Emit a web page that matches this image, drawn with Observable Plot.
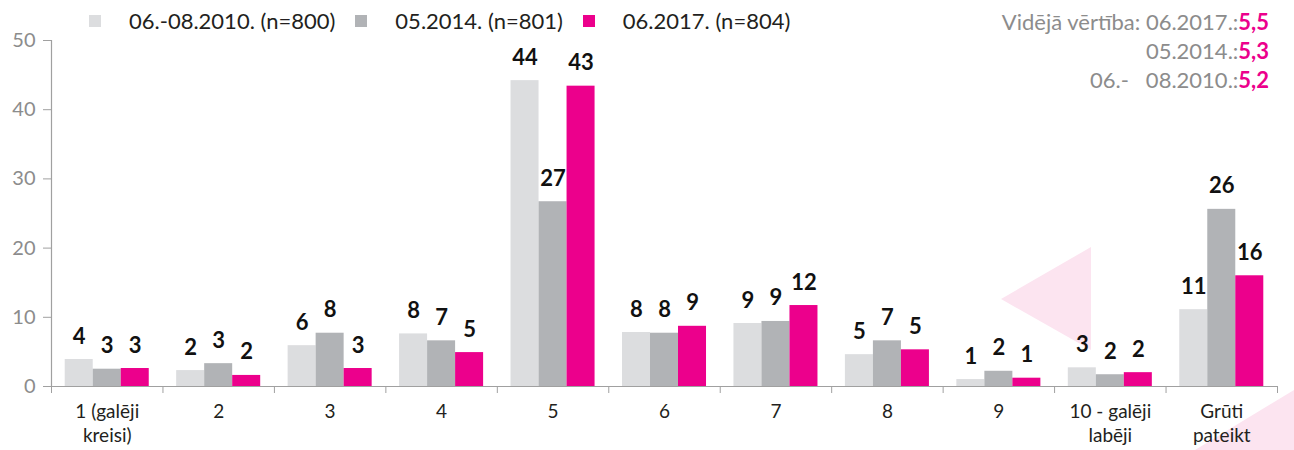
<!DOCTYPE html>
<html>
<head>
<meta charset="utf-8">
<script src="https://cdn.jsdelivr.net/npm/d3@7"></script>
<script src="https://cdn.jsdelivr.net/npm/@observablehq/plot@0.6"></script>
<style>
  html, body { margin: 0; padding: 0; background: #fff; }
  #wrap { position: relative; width: 1294px; height: 450px; overflow: hidden; font-family: Lato, "Noto Sans", sans-serif; }
  #deco { position: absolute; left: 0; top: 0; z-index: 0; }
  #chart { position: absolute; left: 0; top: 0; z-index: 1; }
  #legend { position: absolute; left: 89px; top: 7px; z-index: 2; display: flex; align-items: center; font-size: 22px; color: #231f20; }
  .item { display: flex; align-items: center; margin-right: 20px; }
  .sw { width: 12px; height: 12px; margin-right: 28px; }
  #stats { position: absolute; right: 25px; top: 7px; z-index: 2; text-align: right; font-size: 22px; color: #8c8c8c; line-height: 29px; white-space: pre; }
  #stats b { color: #ec008c; }
</style>
</head>
<body>
<div id="wrap">
  <svg id="deco" width="1294" height="450">
    <polygon points="1001,299 1091,247 1091,350" fill="#fce4f0"></polygon>
    <polygon points="1195,450 1294,390 1294,450" fill="#fce4f0"></polygon>
  </svg>
  <div id="chart"></div>
  <div id="legend"></div>
  <div id="stats"></div>
</div>
<script>
const categories = ["1 (galēji\nkreisi)", "2", "3", "4", "5", "6", "7", "8", "9", "10 - galēji\nlabēji", "Grūti\npateikt"];
const series = ["06.-08.2010. (n=800)", "05.2014. (n=801)", "06.2017. (n=804)"];
const colors = ["#dcdddf", "#b1b3b6", "#ec008c"];
const v2010 = [3.9, 2.3, 5.9, 7.6, 44.2, 7.8, 9.1, 4.6, 1.0, 2.7, 11.1];
const v2014 = [2.5, 3.3, 7.7, 6.6, 26.7, 7.7, 9.4, 6.6, 2.2, 1.7, 25.6];
const v2017 = [2.6, 1.6, 2.6, 4.9, 43.4, 8.7, 11.7, 5.3, 1.2, 2.0, 16.0];
const yTicks = [0, 10, 20, 30, 40, 50];
const meanLabels = ["Vidējā vērtība: 06.2017.:", "05.2014.:", "06.-   08.2010.:"];
const meanValues = ["5,5", "5,3", "5,2"];

const seriesValues = [v2010, v2014, v2017];
const rows = [];
categories.forEach((c, i) => {
  seriesValues.forEach((vals, s) => rows.push({cat: i, s, value: vals[i]}));
});

const PAD = 0.123;
const BW = (1 - 2 * PAD) / 3;
const left = d => d.cat + PAD + d.s * BW;

const chart = Plot.plot({
  width: 1294,
  height: 450,
  marginLeft: 51,
  marginRight: 17,
  marginTop: 40,
  marginBottom: 64,
  style: {background: "transparent", fontFamily: "Lato, 'Noto Sans', sans-serif"},
  x: {type: "linear", domain: [0, categories.length], axis: null},
  y: {domain: [0, 50], axis: null},
  color: {domain: series, range: colors},
  marks: [
    Plot.rectY(rows, {x1: left, x2: d => left(d) + BW, y: "value", fill: d => series[d.s]}),
    Plot.text(rows, {
      x: d => left(d) + BW / 2, y: "value", text: d => String(Math.round(d.value)),
      dy: -16, lineAnchor: "bottom", fontWeight: "bold", fontSize: 22, fill: "#111"
    }),
    Plot.ruleY([0], {stroke: "#a0a0a0", strokeWidth: 1.2}),
    Plot.ruleX([0], {y1: 0, y2: 50, stroke: "#a0a0a0", strokeWidth: 1.2}),
    Plot.axisY({ticks: yTicks, label: null, tickSize: 8, tickPadding: 8, stroke: "#a0a0a0", fill: "#8c8c8c", fontSize: 20, tickFormat: d => String(d)}),
    Plot.axisX({ticks: d3.range(categories.length + 1), label: null, tickSize: 7, stroke: "#a0a0a0", tickFormat: () => ""}),
    Plot.axisX({
      ticks: d3.range(categories.length).map(i => i + 0.5), label: null, tickSize: 0, tickPadding: 14,
      tickFormat: d => categories[Math.floor(d)], fontSize: 19, fill: "#231f20", lineHeight: 1.28
    })
  ]
});
document.getElementById("chart").appendChild(chart);

const legend = document.getElementById("legend");
series.forEach((s, i) => {
  const item = document.createElement("div");
  item.className = "item";
  const sw = document.createElement("span");
  sw.className = "sw";
  sw.style.background = colors[i];
  const t = document.createElement("span");
  t.textContent = s;
  item.appendChild(sw);
  item.appendChild(t);
  legend.appendChild(item);
});

const stats = document.getElementById("stats");
meanLabels.forEach((l, i) => {
  const line = document.createElement("div");
  line.appendChild(document.createTextNode(l));
  const b = document.createElement("b");
  b.textContent = meanValues[i];
  line.appendChild(b);
  stats.appendChild(line);
});
</script>
</body>
</html>
